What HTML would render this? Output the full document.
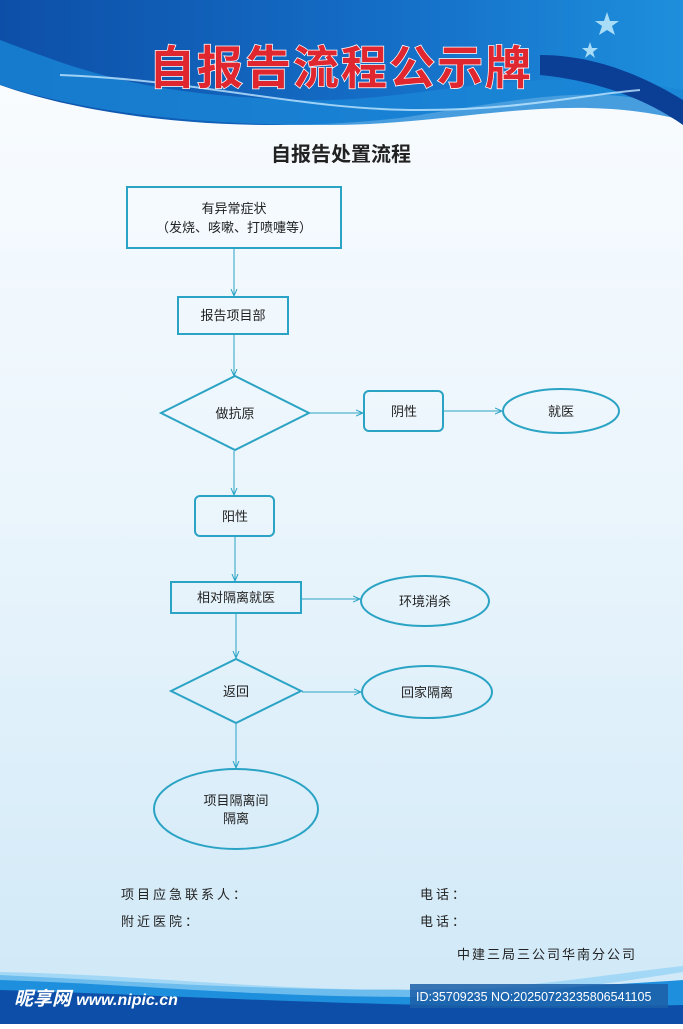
<!DOCTYPE html>
<html><head><meta charset="utf-8"><style>
body{margin:0;width:683px;height:1024px;overflow:hidden;font-family:"Liberation Sans","Noto Sans CJK SC",sans-serif}
</style></head><body>
<svg width="683" height="1024" viewBox="0 0 683 1024" xmlns="http://www.w3.org/2000/svg" font-family="Liberation Sans, Noto Sans CJK SC, sans-serif">
<defs>
<linearGradient id="bg" x1="0" y1="0" x2="0" y2="1"><stop offset="0" stop-color="#fbfdff"/><stop offset="0.5" stop-color="#eaf5fc"/><stop offset="1" stop-color="#cfe8f7"/></linearGradient>
<linearGradient id="hd" x1="0" y1="0" x2="1" y2="0"><stop offset="0" stop-color="#0d4fa8"/><stop offset="0.6" stop-color="#1570c8"/><stop offset="1" stop-color="#1e8fdc"/></linearGradient>
<marker id="a" markerWidth="8" markerHeight="8" refX="7" refY="4" orient="auto"><path d="M0,1 L7,4 L0,7" fill="none" stroke="#2aa3c4" stroke-width="1"/></marker>
</defs>
<rect width="683" height="1024" fill="url(#bg)"/>
<path d="M0,0 H683 V110 C600,80 520,100 400,118 C250,135 100,120 0,85 Z" fill="url(#hd)"/>
<path d="M0,40 C80,70 140,95 300,100 C420,104 520,60 683,90 V120 C560,90 460,125 330,125 C180,125 80,110 0,85 Z" fill="#1a86d6" opacity="0.8"/>
<path d="M540,55 C600,55 650,80 683,100 V125 C640,95 590,80 540,75 Z" fill="#0b3f96"/>
<path d="M60,75 C200,80 300,110 420,110 C520,110 580,95 640,90" fill="none" stroke="#bfe6ff" stroke-width="2" opacity="0.8"/>
<polygon points="607,12 610,21 619,21 612,26 615,35 607,30 599,35 602,26 595,21 604,21" fill="#a9dcf7"/>
<polygon points="590,42 592,48 598,48 593,52 595,58 590,54 585,58 587,52 582,48 588,48" fill="#a9dcf7"/>
<text x="341" y="84" text-anchor="middle" font-size="46" font-weight="bold" fill="#e0262f" stroke="#fff" stroke-width="1.5" paint-order="stroke" letter-spacing="2">自报告流程公示牌</text>
<text x="341" y="161" text-anchor="middle" font-size="20" font-weight="bold" fill="#222">自报告处置流程</text>
<g fill="none" stroke="#2aa3c4" stroke-width="2">
<rect x="127" y="187" width="214" height="61"/>
<rect x="178" y="297" width="110" height="37"/>
<polygon points="161,413 235,376 309,413 235,450"/>
<rect x="364" y="391" width="79" height="40" rx="5"/>
<ellipse cx="561" cy="411" rx="58" ry="22"/>
<rect x="195" y="496" width="79" height="40" rx="5"/>
<rect x="171" y="582" width="130" height="31"/>
<ellipse cx="425" cy="601" rx="64" ry="25"/>
<polygon points="171,691 236,659 301,691 236,723"/>
<ellipse cx="427" cy="692" rx="65" ry="26"/>
<ellipse cx="236" cy="809" rx="82" ry="40"/>
</g>
<g fill="none" stroke="#2aa3c4" stroke-width="1" marker-end="url(#a)">
<line x1="234" y1="249" x2="234" y2="296"/>
<line x1="234" y1="335" x2="234" y2="376"/>
<line x1="234" y1="451" x2="234" y2="495"/>
<line x1="235" y1="537" x2="235" y2="581"/>
<line x1="236" y1="614" x2="236" y2="658"/>
<line x1="236" y1="724" x2="236" y2="768"/>
<line x1="310" y1="413" x2="363" y2="413"/>
<line x1="444" y1="411" x2="502" y2="411"/>
<line x1="302" y1="599" x2="360" y2="599"/>
<line x1="302" y1="692" x2="361" y2="692"/>
</g>
<g font-size="13" fill="#222" text-anchor="middle">
<text x="234" y="213">有异常症状</text>
<text x="234" y="232">（发烧、咳嗽、打喷嚏等）</text>
<text x="233" y="320">报告项目部</text>
<text x="235" y="418">做抗原</text>
<text x="404" y="416">阴性</text>
<text x="561" y="416">就医</text>
<text x="235" y="521">阳性</text>
<text x="236" y="602">相对隔离就医</text>
<text x="425" y="606">环境消杀</text>
<text x="236" y="696">返回</text>
<text x="427" y="697">回家隔离</text>
<text x="236" y="805">项目隔离间</text>
<text x="236" y="823">隔离</text>
</g>
<g font-size="13" fill="#222" letter-spacing="3">
<text x="121" y="899">项目应急联系人：</text>
<text x="420" y="899">电话：</text>
<text x="121" y="926">附近医院：</text>
<text x="420" y="926">电话：</text>
</g>
<text x="457" y="959" font-size="13" fill="#222" letter-spacing="2">中建三局三公司华南分公司</text>
<path d="M0,975 C200,985 400,1000 683,980 V1024 H0 Z" fill="#1d8fdc"/>
<path d="M0,990 C250,998 400,1010 683,1005 V1024 H0 Z" fill="#0d4fa8"/>
<path d="M0,972 C150,975 250,990 420,990 C520,990 600,975 683,966 V972 C600,985 520,997 420,997 C250,997 150,985 0,980Z" fill="#8fd0f5" opacity="0.7"/>
<text x="14" y="1005" font-size="19" font-weight="bold" font-style="italic" fill="#fff">昵享网 <tspan font-size="16">www.nipic.cn</tspan></text>
<rect x="410" y="984" width="258" height="24" fill="#1c5fa8" opacity="0.85"/>
<text x="416" y="1001" font-size="12.5" fill="#fff">ID:35709235 NO:20250723235806541105</text>
</svg>
</body></html>
